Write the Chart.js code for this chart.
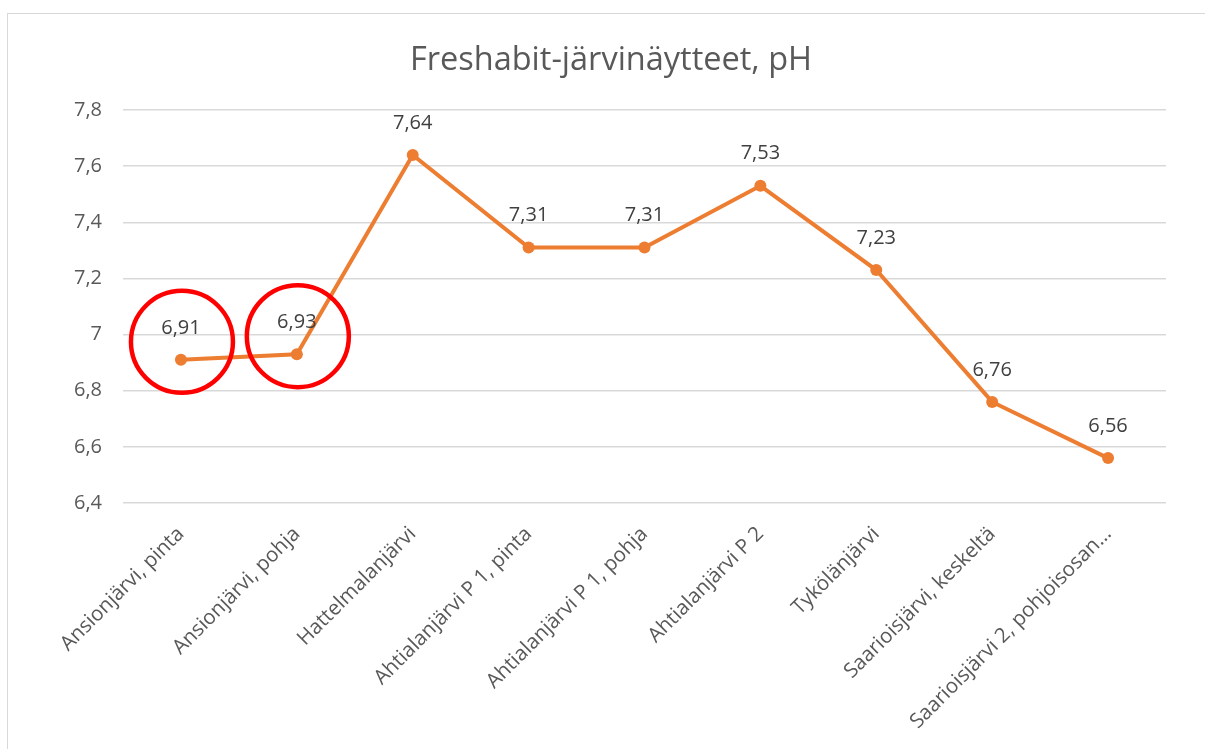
<!DOCTYPE html>
<html>
<head>
<meta charset="utf-8">
<script src="https://cdn.jsdelivr.net/npm/chart.js@4/dist/chart.umd.min.js"></script>
<style>
    html, body { margin: 0; padding: 0; background: #fff; }
    #wrap { position: relative; width: 1205px; height: 749px; overflow: hidden; }
    #frame {
        position: absolute; left: 7px; top: 13px; width: 1300px; height: 800px;
        border: 1px solid #d9d9d9; box-sizing: border-box;
    }
    #chart { position: absolute; left: 0; top: 0; }
</style>
</head>
<body>
<div id="wrap">
    <div id="frame"></div>
    <canvas id="chart" width="1205" height="749"></canvas>
</div>
<script>
// Chart data
const titleText = 'Freshabit-järvinäytteet, pH';
const sites = [
    'Ansionjärvi, pinta',
    'Ansionjärvi, pohja',
    'Hattelmalanjärvi',
    'Ahtialanjärvi P 1, pinta',
    'Ahtialanjärvi P 1, pohja',
    'Ahtialanjärvi P 2',
    'Tykölänjärvi',
    'Saarioisjärvi, keskeltä',
    'Saarioisjärvi 2, pohjoisosan…'
];
const phValues = [6.91, 6.93, 7.64, 7.31, 7.31, 7.53, 7.23, 6.76, 6.56];
const yMin = 6.4;
const yMax = 7.8;
const yStep = 0.2;
const circledPoints = [0, 1];

const FONT = '"Open Sans", sans-serif';
const ORANGE = '#ED7D31';

function fiNum(v, digits) {
    return (digits != null ? v.toFixed(digits) : String(+v.toFixed(1))).replace('.', ',');
}

// value labels above each point
const valueLabels = {
    id: 'valueLabels',
    afterDatasetsDraw(chart) {
        const ctx = chart.ctx;
        const meta = chart.getDatasetMeta(0);
        ctx.save();
        ctx.font = '20px ' + FONT;
        ctx.fillStyle = '#404040';
        ctx.textAlign = 'center';
        ctx.textBaseline = 'middle';
        meta.data.forEach((pt, i) => {
            ctx.fillText(fiNum(phValues[i], 2), pt.x, pt.y - 32);
        });
        ctx.restore();
    }
};

// red highlight circles around the first two samples
const highlightCircles = {
    id: 'highlightCircles',
    afterDraw(chart) {
        const ctx = chart.ctx;
        const meta = chart.getDatasetMeta(0);
        ctx.save();
        ctx.strokeStyle = '#FF0000';
        ctx.lineWidth = 4.5;
        circledPoints.forEach(i => {
            const pt = meta.data[i];
            ctx.beginPath();
            ctx.arc(pt.x + 1, pt.y - 18, 51, 0, Math.PI * 2);
            ctx.stroke();
        });
        ctx.restore();
    }
};

new Chart(document.getElementById('chart'), {
    type: 'line',
    data: {
        labels: sites,
        datasets: [{
            data: phValues,
            borderColor: ORANGE,
            backgroundColor: ORANGE,
            borderWidth: 4,
            pointRadius: 6,
            pointHoverRadius: 6,
            pointBorderWidth: 0,
            tension: 0
        }]
    },
    options: {
        responsive: false,
        animation: false,
        layout: { padding: { left: 56, right: 39, top: 0, bottom: 0 } },
        plugins: {
            legend: { display: false },
            tooltip: { enabled: false },
            title: {
                display: true,
                text: titleText,
                color: '#595959',
                font: { family: FONT, size: 32.5, weight: 'normal' },
                padding: { top: 41, bottom: 30 }
            }
        },
        scales: {
            x: {
                offset: true,
                grid: { display: false, drawTicks: false },
                border: { display: false },
                ticks: {
                    color: '#595959',
                    font: { family: FONT, size: 20.5 },
                    minRotation: 45,
                    maxRotation: 45,
                    autoSkip: false,
                    padding: 19
                },
                afterFit(scale) { scale.height = 246; }
            },
            y: {
                min: yMin,
                max: yMax,
                grid: { color: '#d9d9d9', lineWidth: 1.5, drawTicks: false },
                border: { display: false },
                ticks: {
                    stepSize: yStep,
                    color: '#595959',
                    font: { family: FONT, size: 20 },
                    padding: 21,
                    callback: v => fiNum(v)
                },
                afterFit(scale) { scale.width = 67; }
            }
        }
    },
    plugins: [valueLabels, highlightCircles]
});
</script>
</body>
</html>
